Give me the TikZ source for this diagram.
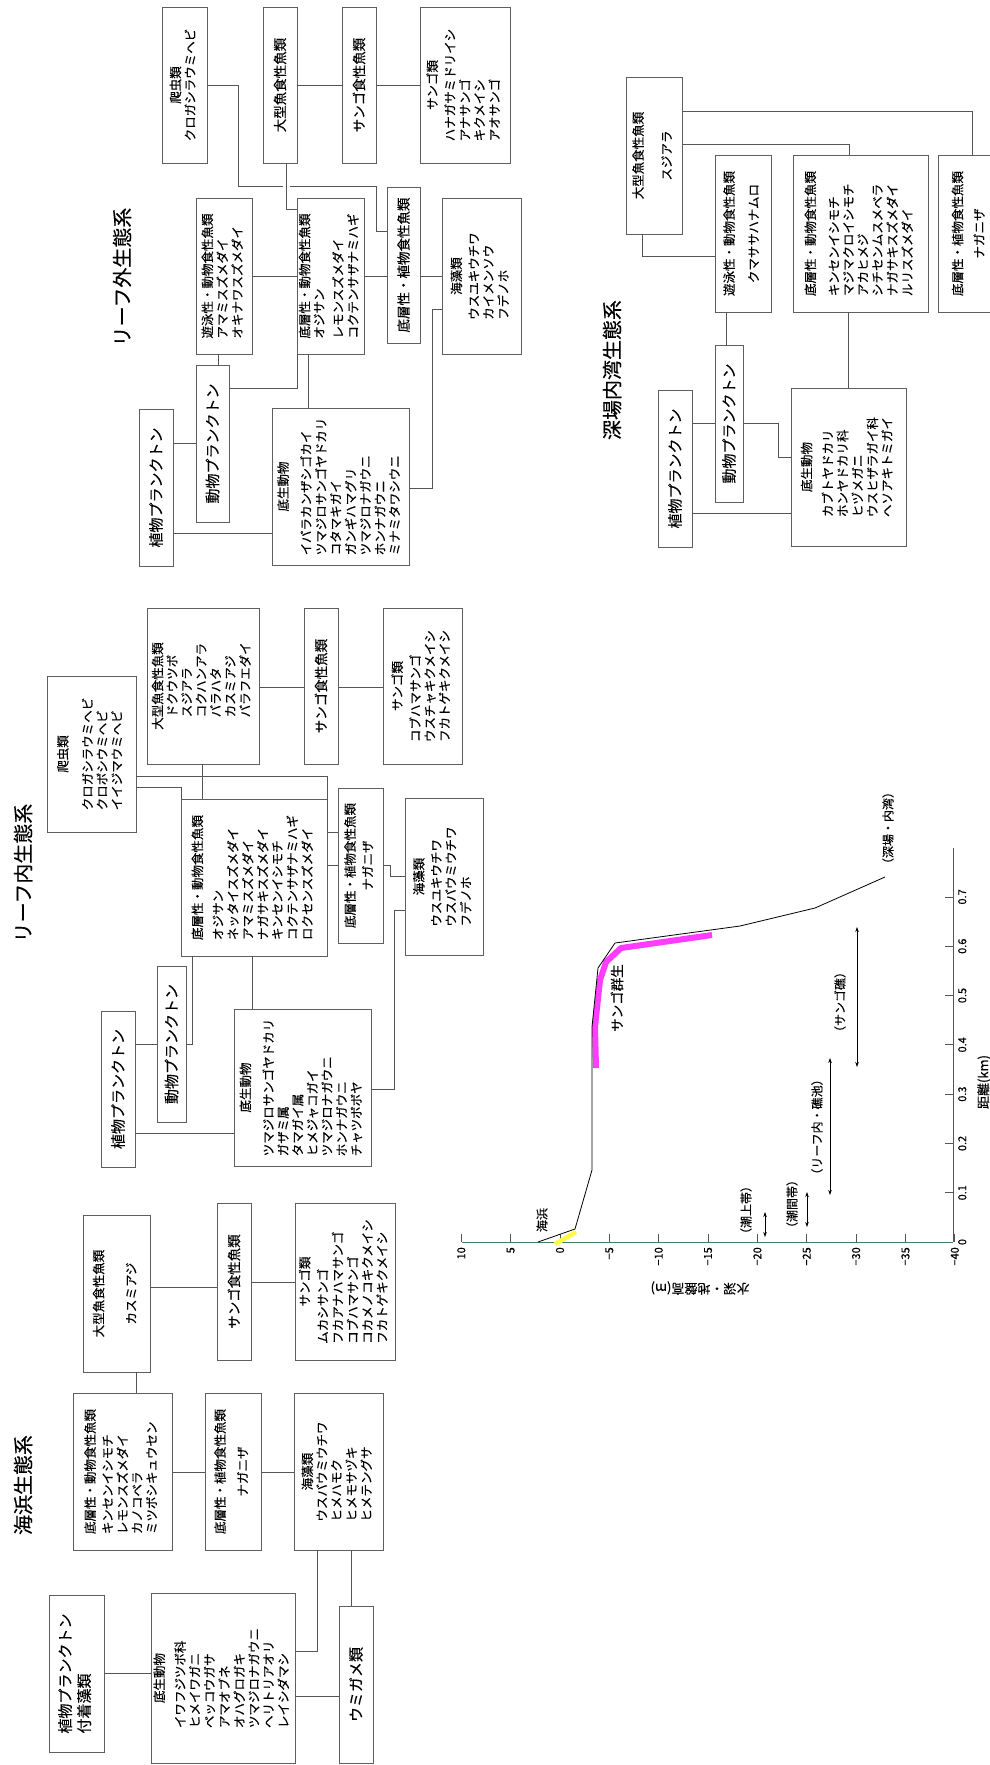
\documentclass[tikz,border=0pt]{standalone}
\usepackage{fontspec}
\usepackage{graphicx}
\setmainfont{Noto Sans CJK JP}[FakeBold=0.3]
\usetikzlibrary{arrows.meta}
\definecolor{boxgray}{RGB}{95,95,95}
\definecolor{linkgray}{RGB}{85,85,85}
\definecolor{axisgreen}{RGB}{70,125,90}
\definecolor{reefpink}{RGB}{255,60,255}
\definecolor{beachyellow}{RGB}{255,250,70}
\newcommand\listfont{\fontsize{12.5}{14.5}\selectfont}
\newcommand\headfont{\fontsize{13.5}{16}\selectfont}
\newcommand\planktonfont{\fontsize{15}{19}\selectfont}
\newcommand\titlefont{\fontsize{20}{24}\selectfont}
\newcommand\plotfont{\fontsize{12}{14}\selectfont}
\newcommand\tickfont{\fontsize{11}{13}\selectfont}
\newcommand\ctr[1]{\multicolumn{1}{@{}c@{}}{#1}}
\newcommand\blk[1]{\rotatebox{90}{\begin{tabular}{@{}l@{}}#1\end{tabular}}}
\newcommand\blkc[1]{\rotatebox{90}{\begin{tabular}{@{}c@{}}#1\end{tabular}}}
\newcommand\foodbox[7][]{%
  \node[ebox,#1,minimum width={#5-#3},minimum height={#6-#4}] (#2) at ({(#3+#5)/2},{(#4+#6)/2}) {#7};}
\tikzset{
  ebox/.style={draw=boxgray, line width=0.9pt, inner sep=0pt, outer sep=0pt, font=\listfont},
  link/.style={draw=linkgray, line width=0.8pt},
  sectitle/.style={rotate=90, font=\titlefont, inner sep=0pt},
  tickline/.style={draw=linkgray, line width=0.8pt},
  ticklabel/.style={rotate=90, font=\tickfont, inner sep=1pt},
  plotlabel/.style={rotate=90, font=\plotfont, inner sep=0pt},
  spanarrow/.style={arrows={Stealth[length=5pt,width=3.5pt]-Stealth[length=5pt,width=3.5pt]}, line width=0.6pt}
}

\begin{document}
\begin{tikzpicture}[x=1pt, y=-1pt]
\useasboundingbox (0,0) rectangle (990,1765);

\node[sectitle] (hbTitle) at (23,1485) {海浜生態系};
\node[sectitle] (rnTitle) at (23,873) {リーフ内生態系};
\node[sectitle] (roTitle) at (122,277) {リーフ外生態系};
\node[sectitle] (dbTitle) at (612,370) {深場内湾生態系};

\foodbox[font=\planktonfont]{hbPhyto}{49}{1595}{104}{1752}{\blk{植物プランクトン\\付着藻類}}
\foodbox{hbBenthos}{151}{1593}{295}{1763}{\blk{\ctr{底生動物}\\[6pt]イワフジツボ科\\ヒメイワガニ\\ベッコウガサ\\アマオブネ\\オハグロガキ\\ツマジロナガウニ\\ヘリトリアオリ\\レイシダマシ}}
\foodbox[font=\planktonfont]{hbTurtle}{339}{1606}{373}{1763}{\rotatebox{90}{ウミガメ類}}
\foodbox{hbBenCarn}{73}{1393}{172}{1550}{\blk{底層性・動物食性魚類\\[3pt]キンセンイシモチ\\レモンスズメダイ\\カノコベラ\\ミツボシキュウセン}}
\foodbox{hbBenHerb}{205}{1393}{261}{1550}{\blkc{底層性・植物食性魚類\\[8pt]ナガニザ}}
\foodbox{hbSeaweed}{294}{1393}{383}{1550}{\blk{\ctr{海藻類}\\ウスバウミウチワ\\ヒメハモク\\ヒメモサヅキ\\ヒメテングサ}}
\foodbox{hbBig}{83}{1215}{150}{1372}{\blkc{大型魚食性魚類\\[18pt]カスミアジ}}
\foodbox[font=\headfont]{hbCoralFish}{217}{1203}{251}{1360}{\rotatebox{90}{サンゴ食性魚類}}
\foodbox{hbCoral}{295}{1203}{395}{1360}{\blk{\ctr{サンゴ類}\\[3pt]ムカシサンゴ\\フカアナハマサンゴ\\コブハマサンゴ\\コカメノコキクメイシ\\フカトゲキクメイシ}}

\foodbox[font=\planktonfont]{rnPhyto}{101}{1011}{135}{1167}{\rotatebox{90}{植物プランクトン}}
\foodbox[font=\planktonfont]{rnZoo}{157}{966}{186}{1122}{\rotatebox{90}{動物プランクトン}}
\foodbox{rnBenthos}{234}{1009}{371}{1166}{\blk{\ctr{底生動物}\\[8pt]ツマジロサンゴヤドカリ\\ガザミ属\\タマガイ属\\ヒメジャコガイ\\ツマジロナガウニ\\ホンナガウニ\\チャツボボヤ}}
\foodbox{rnReptile}{47}{676}{136}{832}{\blk{\ctr{爬虫類}\\[10pt]クロガシラウミヘビ\\クロボシウミヘビ\\イイジマウミヘビ}}
\foodbox{rnBig}{147}{608}{259}{764}{\blk{大型魚食性魚類\\ \quad ドクウツボ\\ \quad スジアラ\\ \quad コクハンアラ\\ \quad バラハタ\\ \quad カスミアジ\\ \quad バラフエダイ}}
\foodbox[font=\headfont]{rnCoralFish}{304}{608}{338}{764}{\rotatebox{90}{サンゴ食性魚類}}
\foodbox{rnCoral}{383}{608}{462}{764}{\blk{\ctr{サンゴ類}\\[3pt]コブハマサンゴ\\ウスチャキクメイシ\\フカトゲキクメイシ}}
\foodbox{rnBenCarn}{181}{799}{327}{956}{\blk{底層性・動物食性魚類\\[6pt]オジサン\\ネッタイスズメダイ\\アマミスズメダイ\\ナガサキスズメダイ\\キンセンイシモチ\\コクテンサザナミハギ\\ロクセンスズメダイ}}
\foodbox{rnBenHerb}{338}{788}{383}{943}{\blkc{底層性・植物食性魚類\\[3pt]ナガニザ}}
\foodbox{rnSeaweed}{405}{798}{483}{955}{\blk{\ctr{海藻類}\\[3pt]ウスユキウチワ\\ウスバウミウチワ\\フデノホ}}

\foodbox{roReptile}{162}{7}{207}{163}{\blk{\ctr{爬虫類}\\クロガシラウミヘビ}}
\foodbox[font=\headfont]{roBig}{263}{7}{297}{163}{\rotatebox{90}{大型魚食性魚類}}
\foodbox[font=\headfont]{roCoralFish}{342}{7}{376}{163}{\rotatebox{90}{サンゴ食性魚類}}
\foodbox{roCoral}{420}{7}{510}{163}{\blk{\ctr{サンゴ類}\\[3pt]ハナガサミドリイシ\\アナサンゴ\\キクメイシ\\アオサンゴ}}
\foodbox{roPelagic}{196}{198}{252}{354}{\blk{遊泳性・動物食性魚類\\アマミスズメダイ\\オキナワスズメダイ}}
\foodbox{roBenCarn}{297}{198}{364}{354}{\blk{底層性・動物食性魚類\\オジサン\\[4pt]レモンスズメダイ\\コクテンサザナミハギ}}
\foodbox[font=\headfont]{roBenHerb}{387}{187}{420}{343}{\rotatebox{90}{底層性・植物食性魚類}}
\foodbox{roSeaweed}{442}{198}{521}{354}{\blk{\ctr{海藻類}\\[3pt]ウスユキウチワ\\カイメンソウ\\フデノホ}}
\foodbox[font=\planktonfont]{roPhyto}{139}{409}{173}{566}{\rotatebox{90}{植物プランクトン}}
\foodbox[font=\planktonfont]{roZoo}{196}{365}{229}{522}{\rotatebox{90}{動物プランクトン}}
\foodbox{roBenthos}{272}{408}{409}{565}{\blk{\ctr{底生動物}\\[8pt]イバラカンザシゴカイ\\ツマジロサンゴヤドカリ\\コタマキガイ\\ガンギハマグリ\\ツマジロナガウニ\\ホンナガウニ\\ミナミタワシウニ}}

\foodbox{dbBig}{626}{77}{682}{234}{\blkc{大型魚食性魚類\\[14pt]スジアラ}}
\foodbox{dbPelagic}{715}{155}{771}{312}{\blkc{遊泳性・動物食性魚類\\[10pt]クマササハナムロ}}
\foodbox{dbBenCarn}{793}{155}{928}{312}{\blk{底層性・動物食性魚類\\[9pt]キンセンイシモチ\\マジマクロイシモチ\\アカヒメジ\\シチセンムスメベラ\\ナガサキスズメダイ\\ルリスズメダイ}}
\foodbox{dbBenHerb}{938}{155}{1002}{312}{\blkc{底層性・植物食性魚類\\[7pt]ナガニザ}}
\foodbox[font=\planktonfont]{dbZoo}{715}{345}{743}{502}{\rotatebox{90}{動物プランクトン}}
\foodbox[font=\planktonfont]{dbPhyto}{658}{390}{692}{547}{\rotatebox{90}{植物プランクトン}}
\foodbox{dbBenthos}{791}{388}{906}{546}{\blk{\ctr{底生動物}\\[6pt]カブトヤドカリ\\ホンヤドカリ科\\ヒヅメガニ\\ウスヒザラガイ科\\ヘソアキトミガイ}}

\draw[link] (hbBig.east |- 0,1287) -- (hbCoralFish.west |- 0,1287);
\draw[link] (hbCoralFish.east |- 0,1282) -- (hbCoral.west |- 0,1282);
\draw[link] (hbBig.south -| 136,0) -- (hbBenCarn.north -| 136,0);
\draw[link] (hbBenCarn.east |- 0,1472) -- (hbBenHerb.west |- 0,1472);
\draw[link] (hbBenHerb.east |- 0,1472) -- (hbSeaweed.west |- 0,1472);
\draw[link] (hbPhyto.east |- 0,1673) -- (hbBenthos.west |- 0,1673);
\draw[link] (hbBenthos.east |- 0,1651) -| (hbSeaweed.south -| 317,0);
\draw[link] (hbBenthos.east |- 0,1696) -- (hbTurtle.west |- 0,1696);
\draw[link] (hbSeaweed.south -| 351,0) -- (hbTurtle.north -| 351,0);

\draw[link] (rnBig.east |- 0,687) -- (rnCoralFish.west |- 0,687);
\draw[link] (rnCoralFish.east |- 0,687) -- (rnCoral.west |- 0,687);
\draw[link] (rnBig.south -| 202,0) -- (rnBenCarn.north -| 202,0);
\draw[link] (rnReptile.east |- 0,776) -| (327,832) -- (rnBenHerb.west |- 0,832);
\draw[link] (rnReptile.east |- 0,787) -| (rnBenCarn.north west);
\draw[link] (rnBenCarn.east |- 0,865) -- (rnBenHerb.west |- 0,865);
\draw[link] (rnBenHerb.east |- 0,865) -| (390,876) -- (rnSeaweed.west |- 0,876);
\draw[link] (rnSeaweed.west |- 0,910) -| (394,1089) -- (rnBenthos.east |- 0,1089);
\draw[link] (rnBenCarn.south -| 192,0) |- (rnZoo.east |- 0,1044);
\draw[link] (rnBenCarn.south -| 252,0) -- (rnBenthos.north -| 252,0);
\draw[link] (rnPhyto.east |- 0,1044) -- (rnZoo.west |- 0,1044);
\draw[link] (rnPhyto.east |- 0,1133) -- (rnBenthos.west |- 0,1133);

\draw[link] (roReptile.east |- 0,85) -| (238,186) -| (376,231) -- (roBenHerb.west |- 0,231);
\draw[white, line width=7pt] (286,183) -- (286,189);
\draw[link] (roBig.south -| 286,0) |- (roBenCarn.west |- 0,209);
\draw[link] (roBig.east |- 0,85) -- (roCoralFish.west |- 0,85);
\draw[link] (roCoralFish.east |- 0,85) -- (roCoral.west |- 0,85);
\draw[link] (roPelagic.east |- 0,276) -- (roBenCarn.west |- 0,276);
\draw[link] (roBenCarn.east |- 0,276) -- (roBenHerb.west |- 0,276);
\draw[link] (roBenHerb.east |- 0,276) -- (roSeaweed.west |- 0,276);
\draw[link] (roSeaweed.west |- 0,309) -| (432,488) -- (roBenthos.east |- 0,488);
\draw[link] (roPelagic.south -| 218,0) -- (roZoo.north -| 218,0);
\draw[link] (roZoo.east |- 0,388) -| (roBenCarn.south west);
\draw[link] (roBenCarn.south -| 308,0) -- (roBenthos.north -| 308,0);
\draw[link] (roPhyto.east |- 0,443) -- (roZoo.west |- 0,443);
\draw[link] (roPhyto.east |- 0,533) -- (roBenthos.west |- 0,533);

\draw[link] (dbBig.east |- 0,111) -| (dbBenHerb.north -| 972,0);
\draw[link] (dbBig.east |- 0,144) -| (dbBenCarn.north -| 849,0);
\draw[link] (dbBig.south -| 642,0) |- (dbPelagic.west |- 0,256);
\draw[link] (dbPelagic.south -| 726,0) -- (dbZoo.north -| 726,0);
\draw[link] (dbBenCarn.south -| 848,0) -- (dbBenthos.north -| 848,0);
\draw[link] (dbPhyto.east |- 0,423) -- (dbZoo.west |- 0,423);
\draw[link] (dbZoo.east |- 0,423) -| (778,457) -- (dbBenthos.west |- 0,457);
\draw[link] (dbPhyto.east |- 0,513) -- (dbBenthos.west |- 0,513);

\draw[draw=axisgreen, line width=0.9pt] (462,1242) -- (953,1242);
\draw[tickline] (953,1242) -- (953,848);
\foreach \d/\t [count=\i] in {10/10,5/5,0/0,-5/−5,-10/−10,-15/−15,-20/−20,-25/−25,-30/−30,-35/−35,-40/−40}{
  \draw[tickline] ({560-9.87*\d},1242) -- ++(0,-8);
  \node[ticklabel, anchor=east] (depthLabel\i) at ({560-9.87*\d},1246) {\t};
}
\foreach \s in {1,...,7}
  \draw[tickline] (953,{1242-49.3*\s}) -- ++(-8,0);
\foreach \s [count=\i] in {0,...,7}
  \node[ticklabel, anchor=north] (distLabel\i) at (957,{1242-49.3*\s}) {\ifnum\s=0 0\else 0.\s\fi};

\draw[reefpink, line width=6pt, line join=round] (596,1068) -- (595,1027) -- (600,980) -- (606,962) -- (621,948) -- (712,935);
\draw[beachyellow, line width=4.5pt] (555,1244) -- (576,1232);
\draw[black, line width=0.8pt, line join=round] (538,1242) -- (575,1229) -- (592,1170) -- (592,1027) -- (598,968) -- (615,943) -- (740,926) -- (815,908) -- (885,877);

\draw[spanarrow] (765,1212) -- (765,1237);
\draw[spanarrow] (807,1192) -- (807,1227);
\draw[spanarrow] (830,1058) -- (830,1195);
\draw[spanarrow] (857,927) -- (857,1067);

\node[plotlabel] (beachLabel) at (542,1220) {海浜};
\node[plotlabel, font=\fontsize{13.5}{16}\selectfont] (coralLabel) at (617,998) {サンゴ群生};
\node[plotlabel] (supraLabel) at (746,1210) {（潮上帯）};
\node[plotlabel] (interLabel) at (792,1204) {（潮間帯）};
\node[plotlabel] (lagoonLabel) at (817,1127) {（リーフ内・礁池）};
\node[plotlabel] (reefLabel) at (840,1002) {（サンゴ礁）};
\node[plotlabel] (deepLabel) at (888,828) {（深場・内湾）};
\node[font=\fontsize{13}{15}\selectfont, rotate=180, inner sep=0pt] (depthTitle) at (700,1288) {水深・地盤高(m)};
\node[font=\fontsize{13}{15}\selectfont, rotate=90, inner sep=0pt] (distTitle) at (984,1082) {距離(km)};
\end{tikzpicture}
\end{document}
